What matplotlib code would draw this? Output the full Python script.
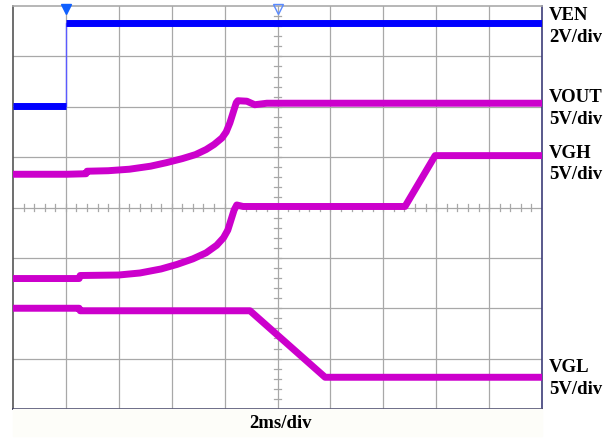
import numpy as np
import matplotlib
matplotlib.use("Agg")
import matplotlib.pyplot as plt
from matplotlib.patches import Rectangle

# time in divisions (2 ms/div), level in screen divisions from the bottom
ven_t = [0.0, 1.0, 1.0, 10.0]
ven_v = [6.02, 6.02, 7.66, 7.66]

vout_t = [0.0, 1.02, 1.38, 1.40, 1.8, 2.2, 2.6, 2.9, 3.2, 3.45, 3.65, 3.8, 3.95, 4.03,
          4.10, 4.16, 4.22, 4.25, 4.42, 4.57, 4.80, 10.0]
vout_v = [4.66, 4.66, 4.67, 4.72, 4.73, 4.76, 4.82, 4.89, 4.97, 5.05, 5.15, 5.25, 5.38, 5.50,
          5.68, 5.88, 6.08, 6.12, 6.11, 6.04, 6.07, 6.07]

vgh_t = [0.0, 1.25, 1.27, 2.0, 2.4, 2.8, 3.1, 3.4, 3.65, 3.85, 3.98, 4.06, 4.12, 4.18,
         4.23, 4.35, 7.41, 7.98, 10.0]
vgh_v = [2.59, 2.59, 2.65, 2.66, 2.70, 2.78, 2.87, 2.98, 3.10, 3.25, 3.40, 3.55, 3.75, 3.95,
         4.05, 4.02, 4.02, 5.03, 5.03]

vgl_t = [0.0, 1.25, 1.27, 4.48, 5.90, 10.0]
vgl_v = [2.0, 2.0, 1.95, 1.95, 0.63, 0.63]

labels = [("VEN", 15), ("2V/div", 38), ("VOUT", 97), ("5V/div", 119),
          ("VGH", 153), ("5V/div", 175), ("VGL", 368), ("5V/div", 390)]

blue = "#0000ff"
mag = "#cc00cc"

fig = plt.figure(figsize=(6.15, 4.39), dpi=100)
fig.patches.append(Rectangle((13 / 615, 0.005), 529 / 615, 0.06, transform=fig.transFigure,
                             color="#fdfdf9", zorder=0))
ax = fig.add_axes([13 / 615, 29 / 439, 529 / 615, 403 / 439])
ax.set_xlim(0, 10)
ax.set_ylim(0, 8)
ax.set_xticks([])
ax.set_yticks([])

for x in range(1, 10):
    ax.axvline(x, color="#a8a8a8", lw=0.9, zorder=1)
for y in range(1, 8):
    ax.axhline(y, color="#a8a8a8", lw=0.9, zorder=1)

# small ticks on the centre lines
for yy in np.arange(0.2, 8, 0.2):
    ax.plot([4.94, 5.06], [yy, yy], color="#a8a8a8", lw=0.9, zorder=1)
for xx in np.arange(0.2, 10, 0.2):
    ax.plot([xx, xx], [3.94, 4.06], color="#a8a8a8", lw=0.9, zorder=1)

ax.spines["left"].set_color("#555555")
ax.spines["bottom"].set_color("#2e2e55")
ax.spines["right"].set_color("#3c3c78")
ax.spines["top"].set_color("#aaaaaa")
for s in ax.spines.values():
    s.set_linewidth(1.2)

ax.plot(ven_t, ven_v, color="#5a5aff", lw=1.0, zorder=3)
ax.plot(ven_t[:2], ven_v[:2], color=blue, lw=5.0, solid_capstyle="butt", zorder=3)
ax.plot(ven_t[2:], ven_v[2:], color=blue, lw=5.0, solid_capstyle="butt", zorder=3)

for t, v in [(vout_t, vout_v), (vgh_t, vgh_v), (vgl_t, vgl_v)]:
    ax.plot(t, v, color=mag, lw=5.0, solid_capstyle="butt", solid_joinstyle="round", zorder=3)

# trigger markers
ax.plot([1.0], [7.95], marker="v", color="#1060ff", markersize=7, clip_on=False, zorder=4)
ax.plot([5.0], [7.95], marker="v", markerfacecolor="none", markeredgecolor="#5a8aff",
        markersize=7, clip_on=False, zorder=4)

font = dict(family="Liberation Serif", weight="bold", fontsize=13.5)
for txt, py in labels:
    fig.text(549 / 615, 1 - py / 439, txt, ha="left", va="center", **font)
fig.text(281 / 615, 1 - 424 / 439, "2ms/div", ha="center", va="center", **font)

fig.savefig("out.png", dpi=100)
